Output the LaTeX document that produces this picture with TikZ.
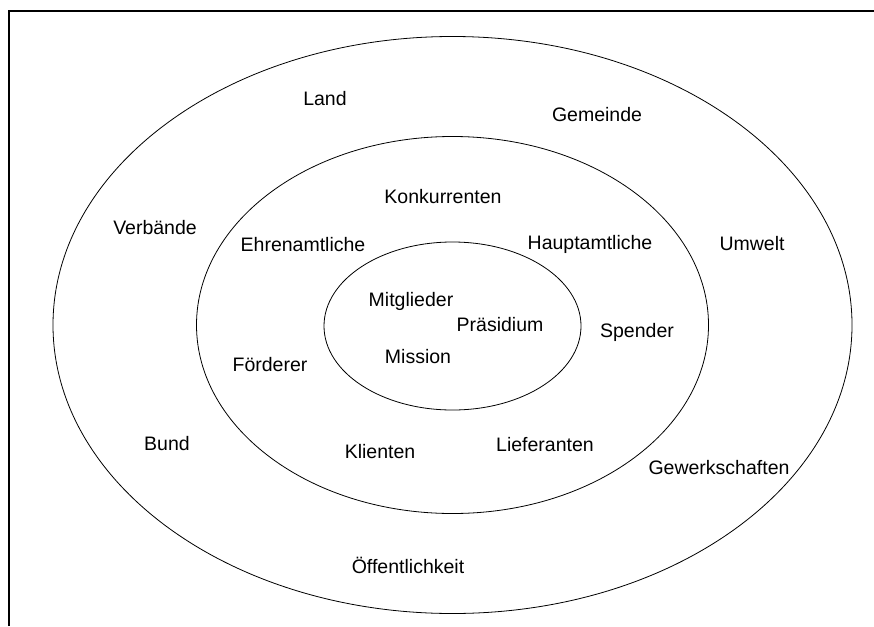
\documentclass[tikz,border=0pt]{standalone}
\usepackage{fontspec}
\setmainfont{Liberation Sans}
\usetikzlibrary{positioning}

\begin{document}
\begin{tikzpicture}[x=1pt,y=-1pt,
  lbl/.style={inner sep=0pt,font=\fontsize{19.5}{23}\selectfont}]
\useasboundingbox (0,0) rectangle (874,626);
\draw[line width=2pt] (9,626) -- (9,11) -- (874,11);

\draw[line width=.8pt] (452.5,325) ellipse [x radius=399.5, y radius=288.5];
\draw[line width=.8pt] (452.5,325) ellipse [x radius=256, y radius=188.5];
\draw[line width=.8pt] (452.5,326) ellipse [x radius=128.5, y radius=84];

\node[lbl] (land) at (325,99) {Land}; \node[lbl] (gemeinde) at (597,115)
{Gemeinde}; \node[lbl] (konk) at (443,197) {Konkurrenten}; \node[lbl]
(verbaende) at (155,228) {Verbände}; \node[lbl] (ehren) at (303,245)
{Ehrenamtliche}; \node[lbl] (haupt) at (590,244) {Hauptamtliche}; \node[lbl]
(umwelt) at (752,244) {Umwelt};

\node[lbl] (mitgl) at (411,301) {Mitglieder}; \node[lbl] (praes) at (500,325)
{Präsidium}; \node[lbl] (mission) at (418,357) {Mission}; \node[lbl] (spender)
at (637,332) {Spender}; \node[lbl] (foerderer) at (270,365) {Förderer};

\node[lbl] (bund) at (167,444) {Bund}; \node[lbl] (klienten) at (380,452)
{Klienten}; \node[lbl] (liefer) at (545,445) {Lieferanten}; \node[lbl] (gewerk)
at (719,468) {Gewerkschaften}; \node[lbl] (oeff) at (408,565)
{Öffentlichkeit};
\end{tikzpicture}
\end{document}
